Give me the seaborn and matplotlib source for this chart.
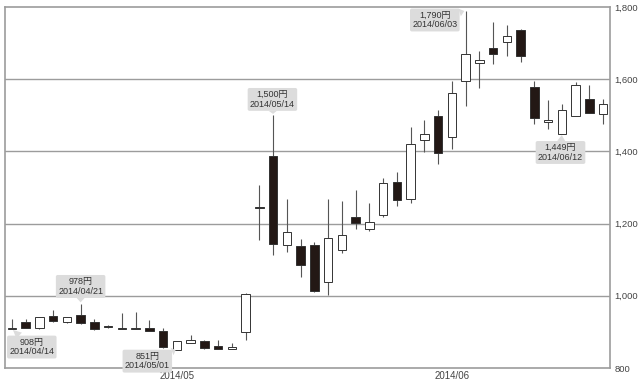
import matplotlib
matplotlib.use("Agg")
import matplotlib.pyplot as plt
import seaborn as sns
import pandas as pd
import numpy as np

dates = ["2014/04/14", "2014/04/15", "2014/04/16", "2014/04/17", "2014/04/18",
         "2014/04/21", "2014/04/22", "2014/04/23", "2014/04/24", "2014/04/25",
         "2014/04/28", "2014/04/30", "2014/05/01", "2014/05/02", "2014/05/07",
         "2014/05/08", "2014/05/09", "2014/05/12", "2014/05/13", "2014/05/14",
         "2014/05/15", "2014/05/16", "2014/05/19", "2014/05/20", "2014/05/21",
         "2014/05/22", "2014/05/23", "2014/05/26", "2014/05/27", "2014/05/28",
         "2014/05/29", "2014/05/30", "2014/06/02", "2014/06/03", "2014/06/04",
         "2014/06/05", "2014/06/06", "2014/06/09", "2014/06/10", "2014/06/11",
         "2014/06/12", "2014/06/13", "2014/06/16", "2014/06/17"]
opens = [909, 928, 910, 945, 927, 948, 928, 916, 909, 908,
         910, 902, 851, 868, 875, 862, 854, 900, 1247, 1387,
         1142, 1138, 1142, 1039, 1128, 1217, 1186, 1225, 1316, 1267,
         1431, 1497, 1440, 1594, 1646, 1686, 1704, 1737, 1578, 1481,
         1449, 1497, 1546, 1503]
highs = [937, 937, 942, 962, 941, 978, 935, 919, 951, 956,
         933, 910, 876, 891, 877, 877, 868, 1007, 1306, 1500,
         1267, 1156, 1149, 1267, 1263, 1294, 1257, 1327, 1343, 1468,
         1486, 1514, 1594, 1790, 1677, 1758, 1749, 1740, 1595, 1541,
         1530, 1593, 1585, 1546]
lows = [908, 910, 909, 928, 926, 922, 906, 911, 907, 907,
        902, 856, 851, 868, 854, 853, 854, 877, 1154, 1113,
        1122, 1053, 1010, 1002, 1119, 1186, 1180, 1217, 1248, 1257,
        1399, 1366, 1408, 1527, 1576, 1641, 1663, 1648, 1475, 1463,
        1449, 1497, 1505, 1477]
closes = [910, 911, 940, 929, 940, 924, 908, 913, 908, 908,
          903, 857, 875, 877, 855, 854, 857, 1005, 1242, 1143,
          1177, 1085, 1013, 1160, 1168, 1203, 1205, 1313, 1265, 1421,
          1447, 1396, 1562, 1670, 1654, 1669, 1720, 1663, 1492, 1486,
          1514, 1583, 1507, 1532]

month_ticks = ["2014/05", "2014/06"]
y_ticks = [800, 1000, 1200, 1400, 1600, 1800]
y_tick_labels = ["800", "1,000", "1,200", "1,400", "1,600", "1,800"]

ann_dates = ["2014/04/14", "2014/04/21", "2014/05/01", "2014/05/14", "2014/06/03", "2014/06/12"]
ann_values = [908, 978, 851, 1500, 1790, 1449]

df = pd.DataFrame({"date": dates, "open": opens, "high": highs,
                   "low": lows, "close": closes})
df["i"] = np.arange(len(df))
df["up"] = df["close"] >= df["open"]

sns.set_theme(style="white")
fam = ["Liberation Sans", "Noto Sans CJK JP", "DejaVu Sans"]
plt.rcParams["font.family"] = fam

fig = plt.figure(figsize=(6.4, 3.87), dpi=100)
ax = fig.add_axes([5/640, 1-368/387, 605/640, 361/387])

grid_c = "#9c9c9c"
for v in y_ticks[1:-1]:
    ax.axhline(v, color=grid_c, lw=1.0, zorder=1)

# wicks
ax.vlines(df["i"], df["low"], df["high"], color="#555555", lw=0.8, zorder=2)
# bodies
body_bottom = np.minimum(df["open"], df["close"])
body_h = np.maximum(np.abs(df["close"] - df["open"]), 1.5)
fc = np.where(df["up"], "white", "#231815")
ax.bar(df["i"], body_h, bottom=body_bottom, width=0.62, color=fc,
       edgecolor="#333333", linewidth=0.7, zorder=3)

ax.set_xlim(-0.5, 43.5)
ax.set_ylim(800, 1800)

ax.yaxis.tick_right()
ax.set_yticks(y_ticks)
ax.set_yticklabels(y_tick_labels)
ax.tick_params(axis="y", length=0, pad=3, labelsize=6.8, labelcolor="#444444")

tick_pos = [df.index[df["date"].str.startswith(m)][0] for m in month_ticks]
ax.set_xticks(tick_pos)
ax.set_xticklabels(month_ticks)
ax.tick_params(axis="x", direction="in", length=3, width=0.8, color="#555555",
               pad=2, labelsize=7, labelcolor="#444444")

for s in ax.spines.values():
    s.set_color(grid_c)
    s.set_linewidth(1.2)

# annotations: box centers in data coords
box_xy = [(1.45, 858), (5.0, 1026), (9.85, 819), (18.95, 1544), (30.76, 1764), (39.9, 1397)]
for d, v, (bx, by) in zip(ann_dates, ann_values, box_xy):
    idx = dates.index(d)
    ax.annotate(f"{v:,}円\n{d}", xy=(idx, v), xytext=(bx, by),
                ha="center", va="center", fontsize=6.5, color="#333333",
                linespacing=1.05, family=fam, zorder=6, annotation_clip=False,
                bbox=dict(boxstyle="round,pad=0.25,rounding_size=0.2",
                          fc="#dcdcdc", ec="none"),
                arrowprops=dict(arrowstyle="wedge,tail_width=0.9,shrink_factor=0.5",
                                fc="#dcdcdc", ec="none", shrinkA=0, shrinkB=1))

fig.savefig("out.png", dpi=100)
